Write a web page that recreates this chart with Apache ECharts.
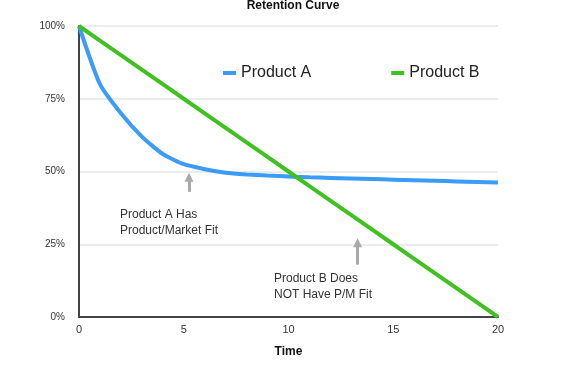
<!DOCTYPE html>
<html><head><meta charset="utf-8">
<script src="https://cdn.jsdelivr.net/npm/echarts@6/dist/echarts.min.js"></script>
<style>html,body{margin:0;padding:0;background:#fff}#c{width:584px;height:385px}</style>
</head><body><div id="c"></div>
<script>
const timeVals = [0,1,2,3,4,5,6,7,8,9,10,11,12,13,14,15,16,17,18,19,20];
const productA = [100,80,70,62,56,52.5,50.8,49.6,49,48.6,48.3,48,47.8,47.6,47.4,47.2,47,46.8,46.6,46.4,46.2];
const productB = [100,95,90,85,80,75,70,65,60,55,50,45,40,35,30,25,20,15,10,5,0];
const yTicks = [0,25,50,75,100];
const arrowA = [[5.25,43],[5.25,48]];
const arrowB = [[13.3,18],[13.3,25.5]];

const chart = echarts.init(document.getElementById('c'));
const font = 'Helvetica, "Liberation Sans", Arial, sans-serif';
function arrow(pts){
  return {silent:true, symbol:['none','triangle'], symbolSize:[9,9],
    lineStyle:{color:'#a9a9a9', width:3, type:'solid'}, label:{show:false},
    data:[[{coord:pts[0]},{coord:pts[1]}]]};
}
chart.setOption({
  animation:false,
  textStyle:{fontFamily:font},
  title:{text:'Retention Curve', left:288, textAlign:'center', top:-5,
    textStyle:{fontSize:12, fontWeight:'bold', color:'#111', fontFamily:font}},
  legend:{top:60, left:218, itemGap:80, itemWidth:13, itemHeight:4, icon:'rect',
    textStyle:{fontSize:16, color:'#222', fontFamily:font},
    data:['Product A','Product B']},
  grid:{left:79, right:86, top:26, bottom:68},
  xAxis:{type:'value', min:0, max:20, interval:5, name:'Time', nameLocation:'middle', nameGap:29,
    nameTextStyle:{fontSize:12, fontWeight:'bold', color:'#111'},
    axisLine:{lineStyle:{color:'#444', width:2}}, axisTick:{show:false},
    axisLabel:{fontSize:11, color:'#333', margin:7}, splitLine:{show:false}},
  yAxis:{type:'value', min:0, max:100, interval:25,
    axisLine:{show:true, lineStyle:{color:'#444', width:2}}, axisTick:{show:false},
    axisLabel:{fontSize:10, color:'#333', margin:14, formatter:'{value}%'},
    splitLine:{lineStyle:{color:'#e6e6e6', width:1.5}}},
  graphic:[
    {type:'text', left:120, top:207, style:{text:'Product A Has\nProduct/Market Fit', font:'12px '+font, fill:'#333', lineHeight:16}},
    {type:'text', left:274, top:271, style:{text:'Product B Does\nNOT Have P/M Fit', font:'12px '+font, fill:'#333', lineHeight:16}}
  ],
  series:[
    {name:'Product A', type:'line', smooth:0.2, showSymbol:false, data:timeVals.map((t,i)=>[t,productA[i]]),
      lineStyle:{color:'#3a9cf6', width:4}, itemStyle:{color:'#3a9cf6'}, markLine:arrow(arrowA)},
    {name:'Product B', type:'line', showSymbol:false, data:timeVals.map((t,i)=>[t,productB[i]]),
      lineStyle:{color:'#3fc11f', width:4}, itemStyle:{color:'#3fc11f'}, markLine:arrow(arrowB)}
  ]
});
</script></body></html>
